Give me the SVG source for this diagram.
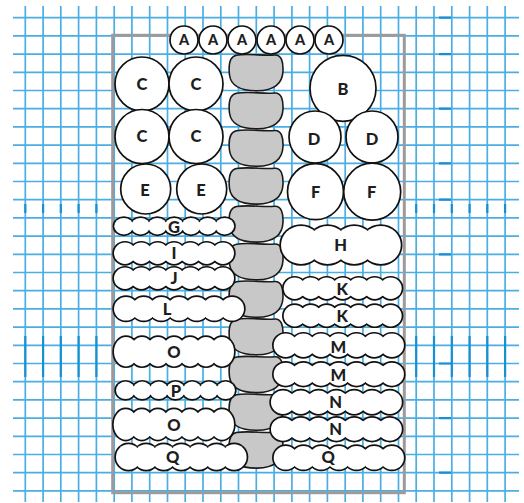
<svg xmlns="http://www.w3.org/2000/svg" xmlns:xlink="http://www.w3.org/1999/xlink" width="524" height="503" viewBox="0 0 524 503">
<style>
.grid{stroke:#4aaee4;stroke-width:1.7;fill:none}
.tick{stroke:#1590d4;stroke-width:2.2;fill:none}
.frame{fill:none;stroke:#9b9b9b;stroke-width:3}
.blob{fill:#c8c8c8;stroke:#1a1a1a;stroke-width:1.6}
.co{fill:#fff;stroke:#111;stroke-width:3.4}
.cf{fill:#fff;stroke:none}
.ci{fill:#fff;stroke:#111;stroke-width:1.7}
.lb{font-family:Lato,"Open Sans","Liberation Sans",sans-serif;font-weight:900;font-size:16.5px;fill:#1e1e1e;text-anchor:middle}
.la{font-size:14.5px}
</style>
<defs>
<path id="blobShape" d="M8,1.2 C20,-0.8 36,2.2 46,1 C53,0.5 54.8,8 54.5,17 C54,29 46.5,36.5 29,36.8 C13,37 2.5,32 1,21 C0,12 0,2.5 8,1.2 Z"/>
<g id="gG"><ellipse cx="123.8" cy="226.2" rx="9.5" ry="8.3"/><ellipse cx="140.6" cy="226.2" rx="9.5" ry="8.3"/><ellipse cx="157.4" cy="226.2" rx="9.5" ry="8.3"/><ellipse cx="174.2" cy="226.2" rx="9.5" ry="8.3"/><ellipse cx="191" cy="226.2" rx="9.5" ry="8.3"/><ellipse cx="207.8" cy="226.2" rx="9.5" ry="8.3"/><ellipse cx="224.6" cy="226.2" rx="9.5" ry="8.3"/></g>
<g id="gI"><ellipse cx="125" cy="253.3" rx="11" ry="10.7"/><ellipse cx="141.3" cy="253.3" rx="11" ry="10.7"/><ellipse cx="157.7" cy="253.3" rx="11" ry="10.7"/><ellipse cx="174" cy="253.3" rx="11" ry="10.7"/><ellipse cx="190.3" cy="253.3" rx="11" ry="10.7"/><ellipse cx="206.7" cy="253.3" rx="11" ry="10.7"/><ellipse cx="223" cy="253.3" rx="11" ry="10.7"/></g>
<g id="gJ"><ellipse cx="125" cy="278.3" rx="11" ry="10.7"/><ellipse cx="141.3" cy="278.3" rx="11" ry="10.7"/><ellipse cx="157.7" cy="278.3" rx="11" ry="10.7"/><ellipse cx="174" cy="278.3" rx="11" ry="10.7"/><ellipse cx="190.3" cy="278.3" rx="11" ry="10.7"/><ellipse cx="206.7" cy="278.3" rx="11" ry="10.7"/><ellipse cx="223" cy="278.3" rx="11" ry="10.7"/></g>
<g id="gL"><ellipse cx="126" cy="308.8" rx="12" ry="11.8"/><ellipse cx="143.7" cy="308.8" rx="12" ry="11.8"/><ellipse cx="161.3" cy="308.8" rx="12" ry="11.8"/><ellipse cx="179" cy="308.8" rx="12" ry="11.8"/><ellipse cx="196.7" cy="308.8" rx="12" ry="11.8"/><ellipse cx="214.3" cy="308.8" rx="12" ry="11.8"/><ellipse cx="232" cy="308.8" rx="12" ry="11.8"/></g>
<g id="gO1"><ellipse cx="126" cy="351.7" rx="12" ry="14.7"/><ellipse cx="142" cy="351.7" rx="12" ry="14.7"/><ellipse cx="158" cy="351.7" rx="12" ry="14.7"/><ellipse cx="174" cy="351.7" rx="12" ry="14.7"/><ellipse cx="190" cy="351.7" rx="12" ry="14.7"/><ellipse cx="206" cy="351.7" rx="12" ry="14.7"/><ellipse cx="222" cy="351.7" rx="12" ry="14.7"/></g>
<g id="gP"><ellipse cx="125.5" cy="390.3" rx="9.5" ry="8.7"/><ellipse cx="142.2" cy="390.3" rx="9.5" ry="8.7"/><ellipse cx="158.8" cy="390.3" rx="9.5" ry="8.7"/><ellipse cx="175.5" cy="390.3" rx="9.5" ry="8.7"/><ellipse cx="192.2" cy="390.3" rx="9.5" ry="8.7"/><ellipse cx="208.8" cy="390.3" rx="9.5" ry="8.7"/><ellipse cx="225.5" cy="390.3" rx="9.5" ry="8.7"/></g>
<g id="gO2"><ellipse cx="125.7" cy="424.5" rx="12" ry="15.2"/><ellipse cx="141.8" cy="424.5" rx="12" ry="15.2"/><ellipse cx="157.8" cy="424.5" rx="12" ry="15.2"/><ellipse cx="173.9" cy="424.5" rx="12" ry="15.2"/><ellipse cx="189.9" cy="424.5" rx="12" ry="15.2"/><ellipse cx="206" cy="424.5" rx="12" ry="15.2"/><ellipse cx="222" cy="424.5" rx="12" ry="15.2"/></g>
<g id="gQ1"><ellipse cx="128.5" cy="457" rx="12.5" ry="12.7"/><ellipse cx="146.1" cy="457" rx="12.5" ry="12.7"/><ellipse cx="163.7" cy="457" rx="12.5" ry="12.7"/><ellipse cx="181.3" cy="457" rx="12.5" ry="12.7"/><ellipse cx="198.9" cy="457" rx="12.5" ry="12.7"/><ellipse cx="216.5" cy="457" rx="12.5" ry="12.7"/><ellipse cx="234.1" cy="457" rx="12.5" ry="12.7"/></g>
<g id="gH"><ellipse cx="301" cy="245" rx="20" ry="19"/><ellipse cx="327.6" cy="245" rx="20" ry="19"/><ellipse cx="354.2" cy="245" rx="20" ry="19"/><ellipse cx="380.8" cy="245" rx="20" ry="19"/></g>
<g id="gK1"><ellipse cx="294.7" cy="288.3" rx="11" ry="10.7"/><ellipse cx="310.7" cy="288.3" rx="11" ry="10.7"/><ellipse cx="326.7" cy="288.3" rx="11" ry="10.7"/><ellipse cx="342.7" cy="288.3" rx="11" ry="10.7"/><ellipse cx="358.7" cy="288.3" rx="11" ry="10.7"/><ellipse cx="374.7" cy="288.3" rx="11" ry="10.7"/><ellipse cx="390.7" cy="288.3" rx="11" ry="10.7"/></g>
<g id="gK2"><ellipse cx="294.7" cy="315.7" rx="11" ry="10.7"/><ellipse cx="310.7" cy="315.7" rx="11" ry="10.7"/><ellipse cx="326.7" cy="315.7" rx="11" ry="10.7"/><ellipse cx="342.7" cy="315.7" rx="11" ry="10.7"/><ellipse cx="358.7" cy="315.7" rx="11" ry="10.7"/><ellipse cx="374.7" cy="315.7" rx="11" ry="10.7"/><ellipse cx="390.7" cy="315.7" rx="11" ry="10.7"/></g>
<g id="gM1"><ellipse cx="285.7" cy="345.3" rx="12" ry="11.7"/><ellipse cx="303.4" cy="345.3" rx="12" ry="11.7"/><ellipse cx="321.1" cy="345.3" rx="12" ry="11.7"/><ellipse cx="338.8" cy="345.3" rx="12" ry="11.7"/><ellipse cx="356.5" cy="345.3" rx="12" ry="11.7"/><ellipse cx="374.2" cy="345.3" rx="12" ry="11.7"/><ellipse cx="391.9" cy="345.3" rx="12" ry="11.7"/></g>
<g id="gM2"><ellipse cx="285.7" cy="374.2" rx="12" ry="11.5"/><ellipse cx="303.4" cy="374.2" rx="12" ry="11.5"/><ellipse cx="321.1" cy="374.2" rx="12" ry="11.5"/><ellipse cx="338.8" cy="374.2" rx="12" ry="11.5"/><ellipse cx="356.5" cy="374.2" rx="12" ry="11.5"/><ellipse cx="374.2" cy="374.2" rx="12" ry="11.5"/><ellipse cx="391.9" cy="374.2" rx="12" ry="11.5"/></g>
<g id="gN1"><ellipse cx="283" cy="402.2" rx="12" ry="11.8"/><ellipse cx="300.8" cy="402.2" rx="12" ry="11.8"/><ellipse cx="318.6" cy="402.2" rx="12" ry="11.8"/><ellipse cx="336.4" cy="402.2" rx="12" ry="11.8"/><ellipse cx="354.2" cy="402.2" rx="12" ry="11.8"/><ellipse cx="372" cy="402.2" rx="12" ry="11.8"/><ellipse cx="389.8" cy="402.2" rx="12" ry="11.8"/></g>
<g id="gN2"><ellipse cx="283" cy="429.2" rx="12" ry="11.5"/><ellipse cx="300.8" cy="429.2" rx="12" ry="11.5"/><ellipse cx="318.6" cy="429.2" rx="12" ry="11.5"/><ellipse cx="336.4" cy="429.2" rx="12" ry="11.5"/><ellipse cx="354.2" cy="429.2" rx="12" ry="11.5"/><ellipse cx="372" cy="429.2" rx="12" ry="11.5"/><ellipse cx="389.8" cy="429.2" rx="12" ry="11.5"/></g>
<g id="gQ2"><ellipse cx="285.7" cy="457.8" rx="12" ry="11.8"/><ellipse cx="303.4" cy="457.8" rx="12" ry="11.8"/><ellipse cx="321.1" cy="457.8" rx="12" ry="11.8"/><ellipse cx="338.8" cy="457.8" rx="12" ry="11.8"/><ellipse cx="356.5" cy="457.8" rx="12" ry="11.8"/><ellipse cx="374.2" cy="457.8" rx="12" ry="11.8"/><ellipse cx="391.9" cy="457.8" rx="12" ry="11.8"/></g>
</defs>
<rect width="524" height="503" fill="#fff"/>
<g id="grid">
<path class="grid" d="M13 17.7H519M13 35.9H519M13 54.1H519M13 72.3H519M13 90.5H519M13 108.7H519M13 126.9H519M13 145.1H519M13 163.3H519M13 181.5H519M13 199.7H519M13 217.9H519M13 236.1H519M13 254.3H519M13 272.5H519M13 290.7H519M13 308.9H519M13 327.1H519M13 345.3H519M13 363.5H519M13 381.7H519M13 399.9H519M13 418.1H519M13 436.3H519M13 454.5H519M13 472.7H519M13 490.9H519"/>
<path class="grid" d="M25.3 6V502M43.1 6V502M60.8 6V502M78.6 6V502M96.4 6V502M114.2 6V502M131.9 6V502M149.7 6V502M167.5 6V502M185.2 6V502M203 6V502M220.8 6V502M238.5 6V502M256.3 6V502M274.1 6V502M291.9 6V502M309.6 6V502M327.4 6V502M345.2 6V502M362.9 6V502M380.7 6V502M398.5 6V502M416.2 6V502M434 6V502M451.8 6V502M469.6 6V502M487.3 6V502M505.1 6V502"/>
<path class="tick" d="M25.3 204V213M43.1 204V213M60.8 204V213M78.6 204V213M96.4 204V213M416.2 204V213M434 204V213M451.8 204V213M469.6 204V213M487.3 204V213M505.1 204V213M25.3 336V377M43.1 336V377M60.8 336V377M78.6 336V377M96.4 336V377M416.2 336V377M434 336V377M451.8 336V377M469.6 336V377M487.3 336V377M505.1 336V377M439 17.7H451M439 54.1H451M439 108.7H451M439 163.3H451M439 199.7H451M439 254.3H451M439 363.5H451M439 418.1H451M439 472.7H451"/>
</g>
<rect id="frame" class="frame" x="112.7" y="35.3" width="291.6" height="457.4"/>
<g id="spine">
<use href="#blobShape" class="blob" x="228.5" y="54"/>
<use href="#blobShape" class="blob" x="228.5" y="92"/>
<use href="#blobShape" class="blob" x="228.5" y="129.5"/>
<use href="#blobShape" class="blob" x="228.5" y="167.3"/>
<use href="#blobShape" class="blob" x="228.5" y="205.3"/>
<use href="#blobShape" class="blob" x="228.5" y="243"/>
<use href="#blobShape" class="blob" x="228.5" y="280.5"/>
<use href="#blobShape" class="blob" x="228.5" y="318"/>
<use href="#blobShape" class="blob" x="228.5" y="355.8"/>
<use href="#blobShape" class="blob" x="228.5" y="393.5"/>
<use href="#blobShape" class="blob" x="228.5" y="431.3"/>
</g>
<g id="node-G"><use href="#gG" class="co"/><use href="#gG" class="cf"/><text class="lb" x="174" y="232.5">G</text></g>
<g id="node-I"><use href="#gI" class="co"/><use href="#gI" class="cf"/><text class="lb" x="174" y="259">I</text></g>
<g id="node-J"><use href="#gJ" class="co"/><use href="#gJ" class="cf"/><text class="lb" x="174" y="284">J</text></g>
<g id="node-L"><use href="#gL" class="co"/><use href="#gL" class="cf"/><text class="lb" x="167" y="315">L</text></g>
<g id="node-O1"><use href="#gO1" class="co"/><use href="#gO1" class="cf"/><text class="lb" x="174" y="357.5">O</text></g>
<g id="node-P"><use href="#gP" class="co"/><use href="#gP" class="cf"/><text class="lb" x="176" y="397">P</text></g>
<g id="node-O2"><use href="#gO2" class="co"/><use href="#gO2" class="cf"/><text class="lb" x="174" y="431">O</text></g>
<g id="node-Q1"><use href="#gQ1" class="co"/><use href="#gQ1" class="cf"/><text class="lb" x="172.7" y="463">Q</text></g>
<g id="node-H"><use href="#gH" class="co"/><use href="#gH" class="cf"/><text class="lb" x="340.7" y="251">H</text></g>
<g id="node-K1"><use href="#gK1" class="co"/><use href="#gK1" class="cf"/><text class="lb" x="342.3" y="295">K</text></g>
<g id="node-K2"><use href="#gK2" class="co"/><use href="#gK2" class="cf"/><text class="lb" x="342.3" y="322">K</text></g>
<g id="node-M1"><use href="#gM1" class="co"/><use href="#gM1" class="cf"/><text class="lb" x="338.3" y="352.5">M</text></g>
<g id="node-M2"><use href="#gM2" class="co"/><use href="#gM2" class="cf"/><text class="lb" x="338.3" y="381">M</text></g>
<g id="node-N1"><use href="#gN1" class="co"/><use href="#gN1" class="cf"/><text class="lb" x="335.7" y="407.5">N</text></g>
<g id="node-N2"><use href="#gN2" class="co"/><use href="#gN2" class="cf"/><text class="lb" x="335.7" y="435">N</text></g>
<g id="node-Q2"><use href="#gQ2" class="co"/><use href="#gQ2" class="cf"/><text class="lb" x="328.3" y="463">Q</text></g>
<g id="node-C1"><circle class="ci" cx="142" cy="84" r="27"/><text class="lb" x="142" y="89.5">C</text></g>
<g id="node-C2"><circle class="ci" cx="196" cy="84" r="27"/><text class="lb" x="196" y="89.5">C</text></g>
<g id="node-C3"><circle class="ci" cx="142" cy="136.5" r="27"/><text class="lb" x="142" y="142">C</text></g>
<g id="node-C4"><circle class="ci" cx="196" cy="136.5" r="27"/><text class="lb" x="196" y="142">C</text></g>
<g id="node-B"><circle class="ci" cx="343" cy="88.3" r="33"/><text class="lb" x="343" y="94.5">B</text></g>
<g id="node-D1"><circle class="ci" cx="315" cy="137" r="26"/><text class="lb" x="314" y="144.5">D</text></g>
<g id="node-D2"><circle class="ci" cx="372" cy="137" r="26"/><text class="lb" x="372" y="144.5">D</text></g>
<g id="node-E1"><circle class="ci" cx="145.7" cy="189" r="25"/><text class="lb" x="145" y="196">E</text></g>
<g id="node-E2"><circle class="ci" cx="201.7" cy="189" r="25"/><text class="lb" x="201" y="196">E</text></g>
<g id="node-F1"><circle class="ci" cx="315.5" cy="191.7" r="28"/><text class="lb" x="315.7" y="197.5">F</text></g>
<g id="node-F2"><circle class="ci" cx="372.2" cy="191.7" r="28.5"/><text class="lb" x="371.7" y="197.5">F</text></g>
<g id="node-A1"><circle class="ci" cx="184" cy="40" r="14"/><text class="lb la" x="184" y="45">A</text></g>
<g id="node-A2"><circle class="ci" cx="213" cy="40" r="14"/><text class="lb la" x="213" y="45">A</text></g>
<g id="node-A3"><circle class="ci" cx="242" cy="40" r="14"/><text class="lb la" x="242" y="45">A</text></g>
<g id="node-A4"><circle class="ci" cx="271" cy="40" r="14"/><text class="lb la" x="271" y="45">A</text></g>
<g id="node-A5"><circle class="ci" cx="300" cy="40" r="14"/><text class="lb la" x="300" y="45">A</text></g>
<g id="node-A6"><circle class="ci" cx="329" cy="40" r="14"/><text class="lb la" x="329" y="45">A</text></g>
<g id="connectors"/>
</svg>
